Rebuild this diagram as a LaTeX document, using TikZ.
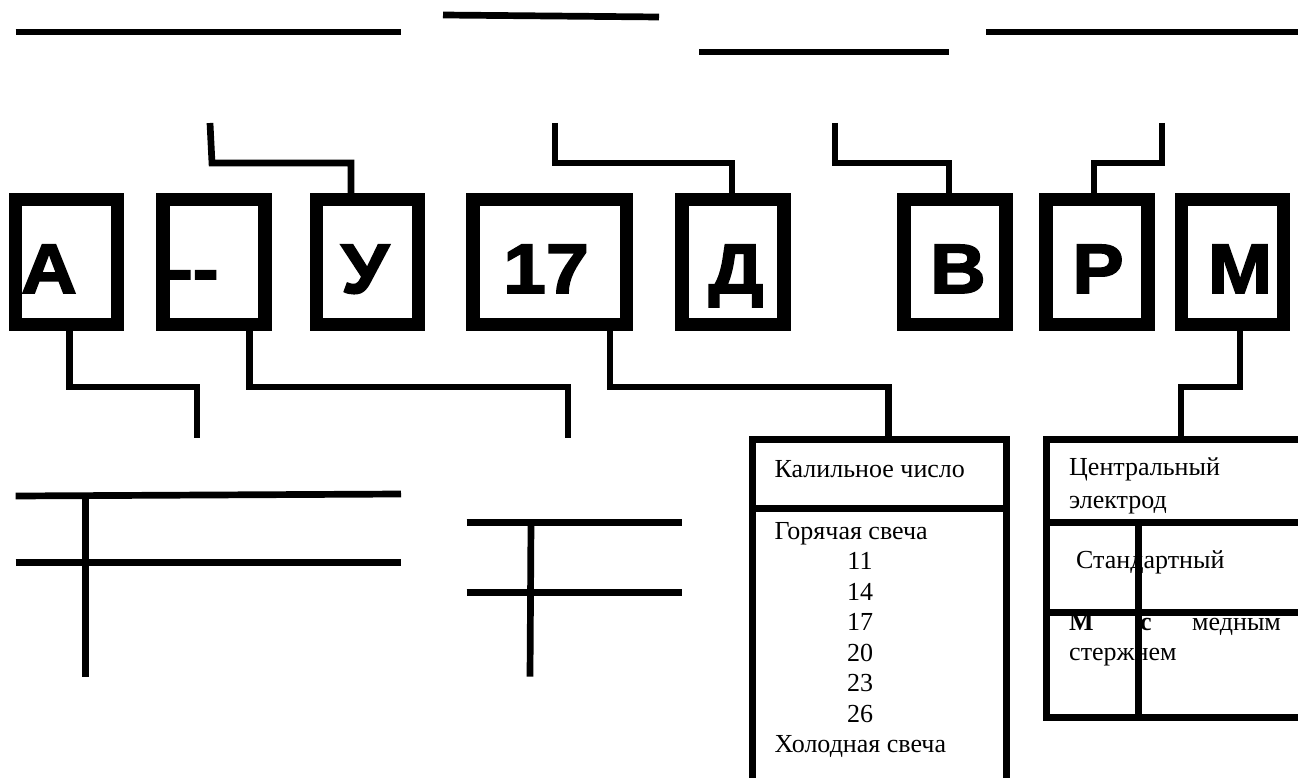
\documentclass[tikz,border=0pt]{standalone}
\usepackage{fontspec}
\setmainfont{Liberation Serif}
\newfontfamily\letterfont{Liberation Sans}[FakeStretch=1.1, FakeBold=2.5]
\begin{document}
\begin{tikzpicture}[x=1pt,y=-1pt, line join=miter, line cap=butt,
  lbox/.style={draw, line width=13.5pt, minimum width=102pt, minimum height=124.5pt, inner sep=0pt, outer sep=0pt},
  ltr/.style={font=\letterfont\bfseries\fontsize{70}{84}\selectfont, inner sep=0pt, anchor=base},
  conn/.style={line width=6.7pt},
  tbox/.style={draw, line width=7pt, inner sep=0pt, outer sep=0pt},
  txt/.style={font=\fontsize{26}{31}\selectfont, inner sep=0pt, anchor=base west},
  num/.style={txt, anchor=base}]
\useasboundingbox (0,0) rectangle (1298,778);

% loose lines at top
\draw[conn] (15.6,32) -- (401,32);
\draw[conn] (443,15) -- (659,17);
\draw[conn] (699,52) -- (949,52);
\draw[conn] (986,32) -- (1300,32);

% letter boxes
\node[lbox] (bA) at (66.5,262) {};
\node[lbox] (bH) at (214,262) {};
\node[lbox] (bU) at (367.4,262) {};
\node[lbox, minimum width=153.5pt] (b17) at (549.5,262) {};
\node[lbox] (bD) at (733,262) {};
\node[lbox] (bV) at (955,262) {};
\node[lbox] (bR) at (1097,262) {};
\node[lbox] (bM) at (1232.5,262) {};

\node[ltr, anchor=base west] (tA) at (21,293) {А};
\node[ltr, anchor=base west] (tH) at (167,293) {-{}-};
\node[ltr] (tU) at (365,293) {У};
\node[ltr] (t17) at (546,293) {17};
\node[ltr] (tD) at (736,293) {Д};
\node[ltr] (tV) at (958,293) {В};
\node[ltr] (tR) at (1098,293) {Р};
\node[ltr] (tM) at (1240,293) {М};

% top brackets
\coordinate (u1) at (210,123);
\coordinate (u2) at (555,123);
\coordinate (u3) at (835,123);
\coordinate (u4) at (1162,123);
\draw[conn] (u1) -- (212,163) -| ([xshift=-16.4pt]bU.north);
\draw[conn] (u2) -- (555,163) -| ([xshift=-1pt]bD.north);
\draw[conn] (u3) -- (835,163) -| ([xshift=-6pt]bV.north);
\draw[conn] (u4) -- (1162,163) -| ([xshift=-3pt]bR.north);

% lower boxes
\node[tbox, minimum width=253.5pt, minimum height=350.5pt] (kal) at (879.25,614.75) {};
\node[tbox, minimum width=263.5pt, minimum height=277.5pt] (cen) at (1178.25,578.25) {};

% bottom brackets
\coordinate (a1) at (197,438);
\coordinate (a2) at (568,438);
\draw[conn] ([xshift=3pt]bA.south) |- (150,387) -| (a1);
\draw[conn] ([xshift=35.6pt]bH.south) |- (400,387) -| (a2);
\draw[conn] ([xshift=60.5pt]b17.south) |- (700,387) -| ([xshift=9pt]kal.north);
\draw[conn] ([xshift=7.5pt]bM.south) |- (1200,387) -| ([xshift=2.75pt]cen.north);

% texts of the heat-range box
\node[txt] (k0) at (774.5,477) {Калильное число};
\node[txt] (k1) at (774.5,539) {Горячая свеча};
\node[num] (n11) at (860,569.5) {11};
\node[num] (n14) at (860,600) {14};
\node[num] (n17) at (860,630.5) {17};
\node[num] (n20) at (860,661) {20};
\node[num] (n23) at (860,691.5) {23};
\node[num] (n26) at (860,722) {26};
\node[txt] (k2) at (774.5,752.5) {Холодная свеча};

% texts of the electrode box
\node[txt] (c0) at (1069,475) {Центральный};
\node[txt] (c1) at (1069,508) {электрод};
\node[txt] (c2) at (1076,568) {Стандартный};
\node[txt] (c3) at (1069,630.7) {\textbf{М}};
\node[txt] (c4) at (1140,630.7) {\textbf{с}};
\node[txt] (c5) at (1192,630.7) {медным};
\node[txt] (c6) at (1069,660) {стержнем};

% dividers
\draw[line width=7pt] (kal.west |- 0,508) -- (kal.east |- 0,508);
\draw[line width=7pt] (cen.west |- 0,522.5) -- (cen.east |- 0,522.5);
\draw[line width=7pt] (cen.west |- 0,612.5) -- (cen.east |- 0,612.5);
\draw[line width=7pt] (1138,522.5) -- (1138,0 |- cen.south);

% lower-left T shapes
\draw[conn] (15.6,496) -- (401,494);
\draw[conn] (15.6,562.7) -- (401,562.7);
\draw[conn] (85.7,496) -- (85.7,676.7);
\draw[conn] (466.5,522.7) -- (682,522.7);
\draw[conn] (466.5,592.7) -- (682,592.7);
\draw[conn] (531,522.7) -- (530,676.7);
\end{tikzpicture}
\end{document}
